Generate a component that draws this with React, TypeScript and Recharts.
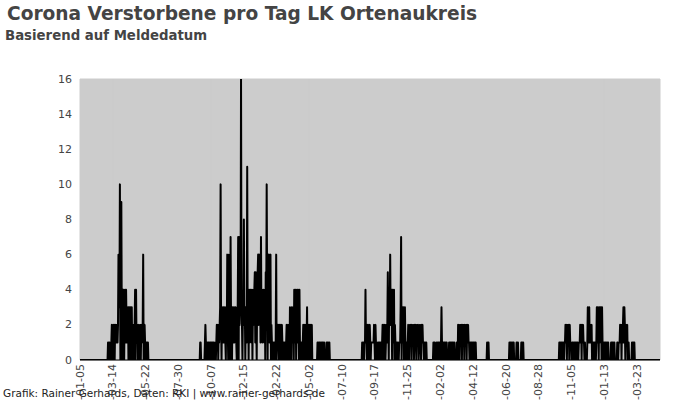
import React from "react";
import { LineChart, Line, XAxis, YAxis, CartesianGrid } from "recharts";

// Daily deaths (by reporting date), LK Ortenaukreis. Days not listed are 0.
const axisStart = "2020-01-05";
const axisEnd = "2023-05-10";

const springStart = "2020-03-04";
const spring2020 = [
  1, 0, 1, 1, 0, 1, 0, 1,
  2, 1, 0, 2, 1, 2, 0, 2, 1, 2, 1, 2,
  1, 2, 6, 6, 3, 10, 0, 4, 9, 2, 0,
  4, 2, 4, 0, 3, 4, 1, 4,
  2, 1, 2, 3, 0, 3, 2, 3, 0, 3, 1, 3, 0,
  2, 1, 2, 0, 2, 4, 0, 4, 1, 2,
  2, 0, 2, 1, 0, 2, 2, 0, 2, 1, 2,
  2, 6, 0, 1, 2, 1, 0, 1, 1, 0, 1, 1,
];

const winterStart = "2020-09-14";
const winter2020 = [
  1, 1, 0,
  0, 0, 0, 0, 0, 0, 0,
  1, 2, 1, 0,
  1, 1, 0, 1, 1, 1, 0, 1, 1, 0, 1, 1, 1, 0, 1, 1, 0,
  0, 1, 0, 1,
  2, 1, 2, 0, 2,
  1, 2, 3, 10, 2,
  0, 3, 1, 2, 3, 1, 2, 3, 1, 0, 3,
  1, 6, 2, 0, 6, 3, 1,
  0, 7, 2, 1,
  0, 3, 1, 2, 3, 1, 2, 3, 2, 1, 0, 3,
  3, 7, 0, 7, 2, 4, 3,
  16, 3, 2, 0, 3, 3, 8, 2, 3, 0, 3, 2, 1, 11, 2, 4,
  0, 4, 1, 3, 4, 2, 1, 4, 0, 3, 4, 2, 4,
  5, 1, 5, 2, 0, 4, 5,
  6, 2, 6, 3, 6, 1,
  7, 2, 4, 1, 3,
  4, 2, 1, 4, 0,
  5, 3, 10, 4, 0, 6, 2, 6, 1, 5, 6, 0, 2,
  1, 0, 1, 1, 0, 1, 1, 0, 1,
  6, 0, 1,
  2, 1, 2, 0, 2, 1, 2, 0, 1, 2, 1, 0,
  1, 1, 0, 1, 1, 0, 1,
  2, 1, 0, 2, 1, 2, 0,
  3, 1, 2, 0, 3, 2, 1, 3, 0,
  4, 1, 2, 4, 0, 3, 4, 1, 4, 2, 0, 4,
  1, 0, 1, 1, 0, 1, 1,
  2, 0, 2, 1, 2, 0, 2,
  1, 3, 0, 2, 1,
  2, 0, 2, 1, 2, 0, 2,
  0, 0, 0, 0, 0, 0, 0, 0, 0, 0, 0,
  1, 1, 0, 1, 1, 1, 0, 1, 1, 0, 1, 1, 1, 0, 1,
  0, 0, 0, 0,
  1, 0, 1, 1, 0, 1, 1,
];

const autumnStart = "2021-08-21";
const autumn2021 = [
  1, 0, 1, 1, 0, 1,
  1, 4, 1, 2, 0,
  2, 1, 2, 0, 1, 2,
  1, 0, 1, 1, 1, 1, 1, 1,
  2, 1, 0, 2, 1, 0,
  0, 0, 1, 1, 0, 1, 1, 0, 1, 1,
  0, 1, 2, 1, 0, 2, 1, 2, 0, 1, 2, 1,
  2, 5, 2, 0, 4, 2,
  6, 2, 4,
  4, 0, 4, 2, 1, 4, 0, 2,
  1, 0, 1, 1, 0, 1, 1, 0, 1, 1,
  1, 3, 7, 0, 3,
  3, 1, 3, 0, 2, 3, 1, 0, 1,
  1, 0, 1,
  2, 1, 0, 2, 2, 1, 2, 0, 2, 1, 2, 2, 0, 1, 2, 1,
  2, 0, 2, 2, 1, 2, 0, 1, 2, 2, 1, 0, 2, 1, 2, 1,
  1, 0, 1, 1, 0, 1, 1,
];

const winter2022Start = "2022-01-18";
const winter2022 = [
  1, 0, 1, 1, 0, 0, 0,
  1, 1, 0, 1, 1, 0, 1,
  1, 0, 1, 3, 1, 0,
  1, 1, 0, 1, 1, 0, 1, 1, 1,
  0, 0, 0, 0,
  1, 1, 0, 1, 1, 1, 0, 1, 1, 0, 1, 1,
  0, 0, 0, 0,
  1, 1, 0,
  2, 1, 2, 0, 2, 2, 1, 2, 0, 2, 1,
  2, 2, 0, 2, 1, 2, 2, 0, 2, 1, 2,
  1, 1, 0, 1, 1, 0, 1, 1, 1, 0, 1, 1, 0, 1, 1, 1,
];

const mayStart = "2022-05-11";
const may2022 = [1, 0, 1, 1];

const summerStart = "2022-06-27";
const summer2022 = [
  1, 0, 1, 1, 0, 1, 1, 0, 1, 1,
  0, 0, 0, 0, 0,
  1, 1, 0, 1,
  0, 0, 0, 0, 0, 0,
  1, 1, 0, 1, 1,
];

const lateStart = "2022-10-10";
const late2022 = [
  1, 1, 0, 1, 1, 1, 0, 1, 1, 1, 0, 1, 1,
  2, 1, 2, 0, 2, 2, 1, 2, 0, 2, 1,
  1, 1, 0, 1, 1, 1, 0, 1, 1, 0, 1, 1, 1, 0, 1, 1, 0, 1, 1, 1,
  2, 1, 2, 0, 2, 1, 2,
  1, 1, 0, 1,
  0, 0, 0, 0,
  1, 3, 1, 2, 3, 1, 2,
  2, 1, 2, 0, 1,
  1, 1, 0, 1, 1, 1, 0, 1,
  3, 1, 3, 2, 0, 3, 1, 3, 2, 3, 0, 3, 1,
  1, 0, 1, 1, 0, 1, 1, 0, 1, 1, 0, 1,
  0, 0, 0, 0, 0,
  1, 1, 0, 1, 1, 0, 1, 1,
  0, 0, 0, 0, 0,
  1, 1, 0, 1, 1, 1,
  2, 1, 2, 0, 2, 1,
  2, 3, 1, 3, 2, 0, 2,
  2, 1, 2, 0, 1, 1,
  0, 0, 0, 0, 0, 0,
  1, 1, 0, 1, 1, 1,
];

const yTicks = [0, 2, 4, 6, 8, 10, 12, 14, 16];
const tickStepDays = 69;

const DAY_MS = 86400000;
const toDay = (iso: string) => Math.round(Date.parse(iso + "T00:00:00Z") / DAY_MS);
const toIso = (day: number) => new Date(day * DAY_MS).toISOString().slice(0, 10);

const runs: [string, number[]][] = [
  [springStart, spring2020],
  [winterStart, winter2020],
  [autumnStart, autumn2021],
  [winter2022Start, winter2022],
  [mayStart, may2022],
  [summerStart, summer2022],
  [lateStart, late2022],
];

const firstDay = toDay(axisStart);
const lastDay = toDay(axisEnd);

const valueByDay = new Map<number, number>();
runs.forEach(([start, values]) => {
  const s = toDay(start);
  values.forEach((v, i) => valueByDay.set(s + i, v));
});

const rows: { day: number; deaths: number }[] = [];
for (let d = firstDay; d <= lastDay; d++) {
  rows.push({ day: d, deaths: valueByDay.get(d) ?? 0 });
}

const xTicks: number[] = [];
for (let d = firstDay; d <= lastDay; d += tickStepDays) xTicks.push(d);

const FONT = "DejaVu Sans, sans-serif";

const DateTick = (props: any) => {
  const { x, y, payload } = props;
  return (
    <text
      x={x}
      y={y}
      transform={`rotate(-90, ${x}, ${y})`}
      textAnchor="end"
      dominantBaseline="central"
      fontFamily={FONT}
      fontSize={11}
      fill="#444"
    >
      {toIso(payload.value)}
    </text>
  );
};

const ValueTick = (props: any) => {
  const { x, y, payload } = props;
  return (
    <text
      x={x}
      y={y}
      textAnchor="end"
      dominantBaseline="central"
      fontFamily={FONT}
      fontSize={11}
      fill="#444"
    >
      {payload.value}
    </text>
  );
};

export default function App() {
  return (
    <div style={{ position: "absolute", left: 0, top: 0, width: 700, height: 400, overflow: "hidden", background: "#fff" }}>
      <LineChart width={700} height={460} data={rows} margin={{ top: 79, right: 40, bottom: 70, left: 20 }}>
        <CartesianGrid fill="#cccccc" stroke="#cccccc" />
        <XAxis
          type="number"
          dataKey="day"
          domain={[firstDay, lastDay]}
          ticks={xTicks}
          interval={0}
          height={30}
          tickSize={0}
          tickMargin={4}
          tickLine={false}
          axisLine={{ stroke: "#000" }}
          tick={<DateTick />}
          allowDataOverflow
        />
        <YAxis
          domain={[0, 16]}
          ticks={yTicks}
          interval={0}
          width={60}
          tickSize={0}
          tickMargin={8}
          tickLine={false}
          axisLine={false}
          tick={<ValueTick />}
          allowDataOverflow
        />
        <Line
          type="linear"
          dataKey="deaths"
          stroke="#000"
          strokeWidth={2}
          strokeLinejoin="round"
          dot={false}
          activeDot={false}
          isAnimationActive={false}
        />
      </LineChart>
      <svg width={700} height={400} style={{ position: "absolute", left: 0, top: 0, pointerEvents: "none" }}>
        <text x={7} y={20} fontFamily={FONT} fontWeight="bold" fontSize={18.6} fill="#444">
          Corona Verstorbene pro Tag LK Ortenaukreis
        </text>
        <text x={5} y={40} fontFamily={FONT} fontWeight="bold" fontSize={13.3} fill="#444">
          Basierend auf Meldedatum
        </text>
        <text x={3} y={397} fontFamily={FONT} fontSize={10.5} fill="#222">
          Grafik: Rainer Gerhards, Daten: RKI | www.rainer-gerhards.de
        </text>
      </svg>
    </div>
  );
}
